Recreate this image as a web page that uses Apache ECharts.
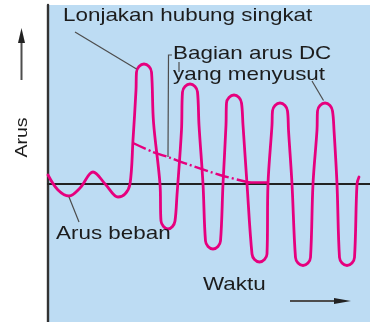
<!DOCTYPE html>
<html>
<head>
<meta charset="utf-8">
<script src="https://cdn.jsdelivr.net/npm/echarts@6/dist/echarts.min.js"></script>
<style>
  html, body { margin: 0; padding: 0; background: #ffffff; }
  #chart { width: 370px; height: 322px; }
</style>
</head>
<body>
<div id="chart"></div>
<script>
// Time axis and current axis extents (arbitrary units)
const timeRange = [0, 322];
const currentRange = [-138, 179];

// Current waveform: load current, then the short-circuit surge
const waveTime = [
  0, 10, 21, 32, 45, 58, 70, 77, 82,
  85, 88, 88.5, 91, 96, 101, 103.5, 105.5, 112,
  113, 115.5, 120, 124.5, 127, 129, 133.5,
  134.5, 137, 142, 147, 149.5, 151, 155,
  157.5, 160, 165, 170, 172.5, 175, 178,
  178.5, 181, 186, 191, 193.5, 195, 199,
  204, 206.5, 211.5, 216.5, 219, 220, 224,
  224.5, 227, 232, 237, 239.5, 240.5, 244,
  247.5, 250, 255, 260, 262.5, 265, 269,
  269.5, 272, 277, 282, 284.5, 286, 289,
  291.5, 294, 299, 304, 306.5, 309, 311
];
const waveCurrent = [
  9, -6, -12, -4, 12, -1, -13, -10, 0,
  44, 94, 112, 117.5, 120, 117.5, 112, 62, 0,
  -37, -42.5, -45, -42.5, -37, -11, 54,
  92, 97.5, 100, 97.5, 92, 59, 0,
  -57, -62.5, -65, -62.5, -57, 0, 59,
  81, 86.5, 89, 86.5, 81, 59, 0,
  -70, -75.5, -78, -75.5, -70, 0, 59,
  73, 78.5, 81, 78.5, 73, 54, 0,
  -73.5, -79, -81.5, -79, -73.5, 0, 54,
  73, 78.5, 81, 78.5, 73, 54, 0,
  -73.5, -79, -81.5, -79, -73.5, 0, 7
];

// Decaying DC component
const dcTime = [85, 105, 120, 139, 172, 199, 204];
const dcCurrent = [41, 32, 27, 20, 9, 2, 1];
// Where the DC component has died away
const dcEndTime = [199, 220];
const dcEndCurrent = [1.5, 1.5];

const pink = '#E6007E';
const ink = '#1c1c1c';
const leader = '#4d4d4d';
const font = '"Liberation Sans", Arial, sans-serif';

const zip = (a, b) => a.map((v, i) => [v, b[i]]);

const chart = echarts.init(document.getElementById('chart'), null, { renderer: 'canvas' });

function label(text, x, y, opts) {
  return Object.assign({
    type: 'text', x: x, y: y, scaleX: 1.18, z: 10,
    style: { text: text, font: '19px ' + font, fill: ink, align: 'left', verticalAlign: 'middle' }
  }, opts || {});
}
function seg(points, w) {
  return {
    type: 'polyline', z: 9,
    shape: { points: points },
    style: { stroke: leader, lineWidth: w || 1.2, fill: null }
  };
}

chart.setOption({
  animation: false,
  grid: {
    left: 48, right: 0, top: 5, bottom: 0,
    show: true, backgroundColor: '#BDDCF3', borderWidth: 0
  },
  xAxis: {
    type: 'value', min: timeRange[0], max: timeRange[1],
    axisLine: { show: true, onZero: true, lineStyle: { color: '#222', width: 2 } },
    axisTick: { show: false }, axisLabel: { show: false }, splitLine: { show: false }
  },
  yAxis: {
    type: 'value', min: currentRange[0], max: currentRange[1],
    axisLine: { show: true, onZero: false, lineStyle: { color: '#333', width: 2.4 } },
    axisTick: { show: false }, axisLabel: { show: false }, splitLine: { show: false }
  },
  series: [
    {
      type: 'line', data: zip(waveTime, waveCurrent),
      showSymbol: false, smooth: 0.35, z: 5,
      lineStyle: { color: pink, width: 2.8, cap: 'round', join: 'round' }
    },
    {
      type: 'line', data: zip(dcTime, dcCurrent),
      showSymbol: false, smooth: 0.3, z: 4,
      lineStyle: { color: pink, width: 2.4, type: [14, 3, 2, 3] }
    },
    {
      type: 'line', data: zip(dcEndTime, dcEndCurrent),
      showSymbol: false, z: 4,
      lineStyle: { color: pink, width: 2.4 }
    }
  ],
  graphic: [
    // annotations
    label('Lonjakan hubung singkat', 63, 16),
    label('Bagian arus DC', 173, 53.5),
    label('yang menyusut', 173, 75),
    label('Arus beban', 56, 234),
    label('Waktu', 203, 285),
    {
      type: 'text', x: 22.5, y: 137.5, rotation: Math.PI / 2, scaleX: 1.15, z: 10,
      style: { text: 'Arus', font: '17px ' + font, fill: ink, align: 'center', verticalAlign: 'middle' }
    },
    // leader lines
    seg([[75, 32], [136.5, 69]]),
    seg([[172, 55], [168.5, 55], [168, 157]]),
    seg([[179, 62], [179, 72]]),
    seg([[312, 81], [323.5, 100.5]]),
    seg([[69, 197], [79, 222]]),
    // axis direction arrows
    seg([[21.5, 80], [21.5, 40]], 2),
    {
      type: 'polygon', z: 9,
      shape: { points: [[21.5, 28], [18, 43], [25, 43]] },
      style: { fill: '#222' }
    },
    seg([[290, 301], [336, 301]], 2),
    {
      type: 'polygon', z: 9,
      shape: { points: [[351, 301], [334, 298], [334, 304]] },
      style: { fill: '#222' }
    }
  ]
});
</script>
</body>
</html>
